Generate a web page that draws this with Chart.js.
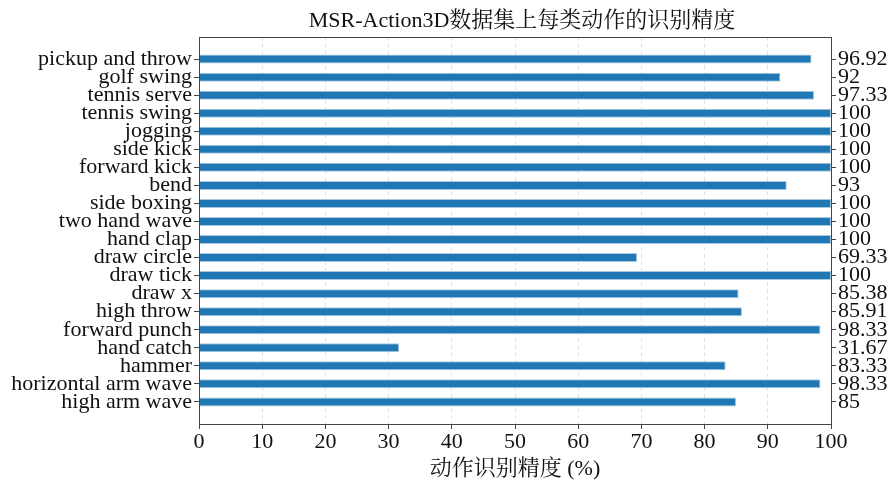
<!DOCTYPE html>
<html>
<head>
<meta charset="utf-8">
<script src="https://cdn.jsdelivr.net/npm/chart.js@4/dist/chart.umd.min.js"></script>
<style>
  html, body { margin: 0; padding: 0; background: #fff; }
  #wrap { width: 890px; height: 482px; }
</style>
</head>
<body>
<div id="wrap"><canvas id="c" width="890" height="482"></canvas></div>
<script>
// Action classes, listed top to bottom
const categories = [
  'pickup and throw', 'golf swing', 'tennis serve', 'tennis swing', 'jogging',
  'side kick', 'forward kick', 'bend', 'side boxing', 'two hand wave',
  'hand clap', 'draw circle', 'draw tick', 'draw x', 'high throw',
  'forward punch', 'hand catch', 'hammer', 'horizontal arm wave', 'high arm wave'
];
// Recognition accuracy per class (%)
const accuracy = [
  96.92, 92, 97.33, 100, 100,
  100, 100, 93, 100, 100,
  100, 69.33, 100, 85.38, 85.91,
  98.33, 31.67, 83.33, 98.33, 85
];
// Labels on the right-hand axis
const valueLabels = accuracy.map(v => String(v));
const xTicks = [0, 10, 20, 30, 40, 50, 60, 70, 80, 90, 100];

const SERIF = "'Liberation Serif', 'Times New Roman', 'Noto Serif CJK SC', 'Noto Sans CJK SC', serif";
const INK = '#111';
const SPINE = '#444';
const FS = 22;

const yMin = -1.225, yMax = categories.length - 1 + 1.225;

const framePlugin = {
  id: 'frame',
  afterDraw(chart) {
    const { ctx, chartArea: a } = chart;
    ctx.save();
    ctx.strokeStyle = SPINE;
    ctx.lineWidth = 1;
    ctx.strokeRect(Math.round(a.left) + 0.5, Math.round(a.top) + 0.5,
                   Math.round(a.right - a.left), Math.round(a.bottom - a.top));
    // chart title above the plot area
    ctx.fillStyle = INK;
    ctx.font = FS + 'px ' + SERIF;
    ctx.textAlign = 'center';
    ctx.textBaseline = 'middle';
    ctx.fillText('MSR-Action3D数据集上每类动作的识别精度', (a.left + a.right) / 2 + 7, 21);
    ctx.restore();
  }
};

const yAxis = (position, labels, width) => ({
  type: 'linear',
  position,
  reverse: true,
  offset: false,
  min: yMin, max: yMax,
  afterBuildTicks: s => { s.ticks = labels.map((_, i) => ({ value: i })); },
  afterFit: s => { s.width = width; },
  border: { display: false },
  grid: { offset: false, drawOnChartArea: false, drawTicks: true, tickLength: 5, tickColor: SPINE },
  ticks: {
    autoSkip: false,
    color: INK,
    padding: 2,
    font: { family: SERIF, size: FS },
    callback: v => labels[v]
  }
});

new Chart(document.getElementById('c'), {
  type: 'bar',
  data: {
    datasets: [{
      data: accuracy.map((v, i) => ({ x: v, y: i })),
      backgroundColor: '#1f77b4',
      borderColor: '#a9c9e2',
      borderWidth: 1,
      categoryPercentage: 1,
      barPercentage: 0.5,
      yAxisID: 'y'
    }]
  },
  options: {
    indexAxis: 'y',
    responsive: false,
    animation: false,
    layout: { padding: { top: 37, left: 0, right: 0, bottom: 0 } },
    plugins: { legend: { display: false }, tooltip: { enabled: false }, title: { display: false } },
    scales: {
      x: {
        type: 'linear',
        min: 0, max: 100,
        afterBuildTicks: s => { s.ticks = xTicks.map(v => ({ value: v })); },
        afterFit: s => { s.height = 58; },
        border: { display: false, dash: [4, 3] },
        grid: {
          color: '#e2e2e2',
          lineWidth: 1,
          drawTicks: true,
          tickLength: 5,
          tickColor: SPINE,
          tickBorderDash: []
        },
        ticks: {
          color: INK,
          font: { family: SERIF, size: FS },
          padding: 0,
          maxRotation: 0,
          autoSkip: false
        },
        title: {
          display: true,
          text: '动作识别精度 (%)',
          color: INK,
          font: { family: SERIF, size: FS },
          padding: { top: 3, bottom: 0 }
        }
      },
      y: yAxis('left', categories, 199),
      y2: yAxis('right', valueLabels, 59)
    }
  },
  plugins: [framePlugin]
});
</script>
</body>
</html>
